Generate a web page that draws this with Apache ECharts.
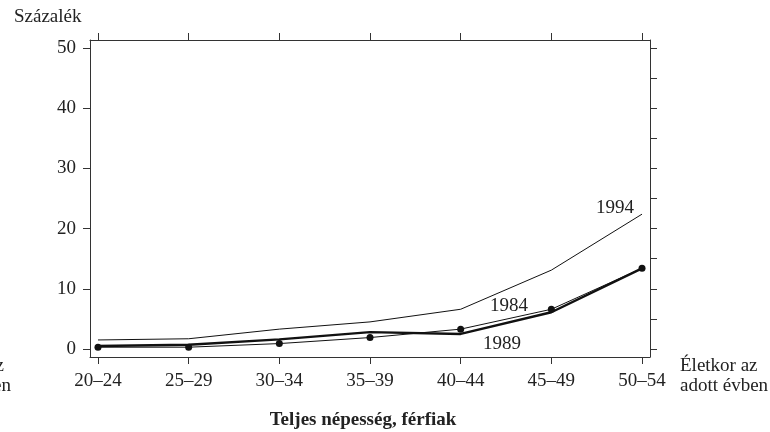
<!DOCTYPE html>
<html>
<head>
<meta charset="utf-8">
<script src="https://cdn.jsdelivr.net/npm/echarts@6/dist/echarts.min.js"></script>
<style>
  html, body { margin: 0; padding: 0; background: #fff; }
  #chart { width: 770px; height: 432px; }
</style>
</head>
<body>
<div id="chart"></div>
<script>
var categories = ['20–24', '25–29', '30–34', '35–39', '40–44', '45–49', '50–54'];
var values1984 = [0.3, 0.3, 0.9, 1.9, 3.3, 6.6, 13.4];
var values1989 = [0.5, 0.7, 1.6, 2.8, 2.5, 6.1, 13.4];
var values1994 = [1.5, 1.7, 3.3, 4.5, 6.6, 13.1, 22.4];
var yLabels = [0, 10, 20, 30, 40, 50];
var yMinor = [0, 5, 10, 15, 20, 25, 30, 35, 40, 45, 50];

var serif = '"Liberation Serif", "DejaVu Serif", serif';
var ink = '#222';
var fs = 19;

function pairs(vals) {
    var out = [];
    for (var i = 0; i < vals.length; i++) {
        out.push([i, vals[i]]);
    }
    return out;
}
var catIdx = categories.map(function (c, i) { return i; });

var myChart = echarts.init(document.getElementById('chart'));

var axisLine = { show: true, onZero: false, lineStyle: { color: '#333', width: 1 } };
var option = {
    animation: false,
    backgroundColor: '#fff',
    grid: { left: 90, right: 120, top: 40, bottom: 75 },
    xAxis: [
        {
            type: 'value', position: 'bottom',
            min: -0.088, max: 6.088,
            axisLine: axisLine,
            axisTick: { show: true, length: 7, customValues: catIdx, lineStyle: { color: '#333' } },
            axisLabel: {
                customValues: catIdx, margin: 15,
                fontFamily: serif, fontSize: fs, color: ink,
                formatter: function (v) { return categories[Math.round(v)] || ''; }
            },
            splitLine: { show: false }
        },
        {
            type: 'value', position: 'top',
            min: -0.088, max: 6.088,
            axisLine: axisLine,
            axisTick: { show: true, length: 7, customValues: catIdx, lineStyle: { color: '#333' } },
            axisLabel: { show: false },
            splitLine: { show: false }
        }
    ],
    yAxis: [
        {
            type: 'value', position: 'left',
            min: -1.33, max: 51.33,
            axisLine: axisLine,
            axisTick: { show: true, length: 7, customValues: yLabels, lineStyle: { color: '#333' } },
            axisLabel: { customValues: yLabels, margin: 14, fontFamily: serif, fontSize: fs, color: ink },
            splitLine: { show: false }
        },
        {
            type: 'value', position: 'right',
            min: -1.33, max: 51.33,
            axisLine: axisLine,
            axisTick: { show: true, length: 7, customValues: yMinor, lineStyle: { color: '#333' } },
            axisLabel: { show: false },
            splitLine: { show: false }
        }
    ],
    series: [
        {
            name: '1994', type: 'line',
            data: pairs(values1994),
            showSymbol: false,
            lineStyle: { color: '#111', width: 1 },
            z: 2
        },
        {
            name: '1989', type: 'line',
            data: pairs(values1989),
            showSymbol: false,
            lineStyle: { color: '#111', width: 2.4 },
            z: 3
        },
        {
            name: '1984', type: 'line',
            data: pairs(values1984),
            symbol: 'circle', symbolSize: 7,
            itemStyle: { color: '#111' },
            lineStyle: { color: '#111', width: 1 },
            z: 4
        }
    ],
    graphic: [
        { type: 'text', left: 14, top: 8, style: { text: 'Százalék', font: fs + 'px ' + serif, fill: ink } },
        { type: 'text', x: 615, y: 208, style: { text: '1994', font: fs + 'px ' + serif, fill: ink, textAlign: 'center', textVerticalAlign: 'middle' } },
        { type: 'text', x: 509, y: 306, style: { text: '1984', font: fs + 'px ' + serif, fill: ink, textAlign: 'center', textVerticalAlign: 'middle' } },
        { type: 'text', x: 502, y: 344, style: { text: '1989', font: fs + 'px ' + serif, fill: ink, textAlign: 'center', textVerticalAlign: 'middle' } },
        { type: 'text', x: 680, y: 366, style: { text: 'Életkor az', font: fs + 'px ' + serif, fill: ink, textAlign: 'left', textVerticalAlign: 'middle' } },
        { type: 'text', x: 680, y: 386, style: { text: 'adott évben', font: fs + 'px ' + serif, fill: ink, textAlign: 'left', textVerticalAlign: 'middle' } },
        { type: 'text', x: 4, y: 366, style: { text: 'Életkor az', font: fs + 'px ' + serif, fill: ink, textAlign: 'right', textVerticalAlign: 'middle' } },
        { type: 'text', x: 11, y: 386, style: { text: 'adott évben', font: fs + 'px ' + serif, fill: ink, textAlign: 'right', textVerticalAlign: 'middle' } },
        { type: 'text', x: 363, y: 420, style: { text: 'Teljes népesség, férfiak', font: 'bold ' + fs + 'px ' + serif, fill: ink, textAlign: 'center', textVerticalAlign: 'middle' } }
    ]
};
myChart.setOption(option);
window.onresize = myChart.resize;
</script>
</body>
</html>
